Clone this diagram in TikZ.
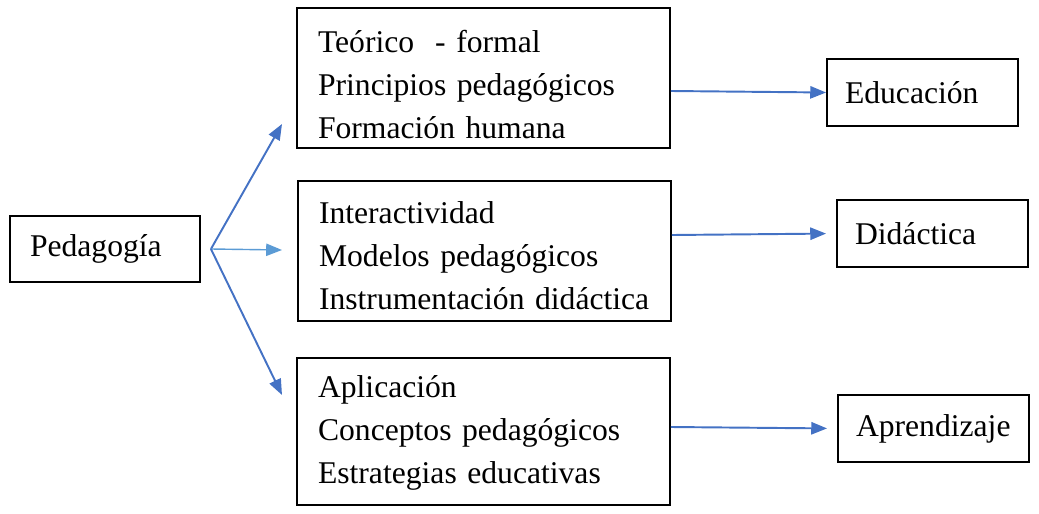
\documentclass[tikz,border=0pt]{standalone}
\usepackage{fontspec}
\setmainfont{Liberation Serif}
\usetikzlibrary{positioning,arrows.meta}
\definecolor{linkblue}{RGB}{68,114,196}
\definecolor{lightblue}{RGB}{91,155,213}
\tikzstyle{box}=[draw, line width=1.1pt, align=left, font=\fontsize{18}{24.5}\selectfont]
\tikzstyle{lst}=[box, inner xsep=0.42cm, text width=6.62cm, minimum height=2.8cm]
\tikzstyle{res}=[box, inner xsep=0.36cm, text width=3.1cm, minimum height=1.34cm]
\tikzstyle{link}=[-{Triangle[length=9pt,width=7pt]}, line width=1.1pt, draw=linkblue]

\begin{document}
\begin{tikzpicture}[x=0.02cm,y=-0.02cm]
\useasboundingbox (0,0) rectangle (1039,514);

\node[box, inner xsep=0.4cm, text width=3.0cm, minimum height=1.32cm] at (105,249) (ped) {Pedagogía};

\node[lst] at (483.5,78) (teo) {\rule{0pt}{20pt}Teórico\ \ - formal\\Principios pedagógicos\\Formación humana};
\node[lst] at (484.5,251) (inter) {\rule{0pt}{18pt}Interactividad\\Modelos pedagógicos\\Instrumentación didáctica};
\node[lst, minimum height=2.94cm] at (483.5,431.5) (apl) {\rule{0pt}{14.6pt}Aplicación\\Conceptos pedagógicos\\Estrategias educativas};

\node[res] at (922.5,92.5) (edu) {Educación};
\node[res] at (932.5,233.5) (did) {Didáctica};
\node[res] at (933.5,428.5) (apr) {Aprendizaje};

%\coordinate (fork) at (210,252);
\coordinate[right = 0.2cm of ped.east] (fork);
\coordinate (tip1) at (282,124);
\coordinate (tip2) at (282,250);
\coordinate (tip3) at (282,395);

\draw[link] (fork) -- (tip1);
\draw[link, draw=lightblue, line width=0.8pt] (fork) -- (tip2);
\draw[link] (fork) -- (tip3);

\draw[link] ([yshift=-0.26cm]teo.east) -- (edu.west);
\draw[link, shorten >=0.2cm] ([yshift=0.32cm]inter.east) -- (did.west);
\draw[link, shorten >=0.2cm] ([yshift=0.09cm]apl.east) -- (apr.west);
\end{tikzpicture}
\end{document}
